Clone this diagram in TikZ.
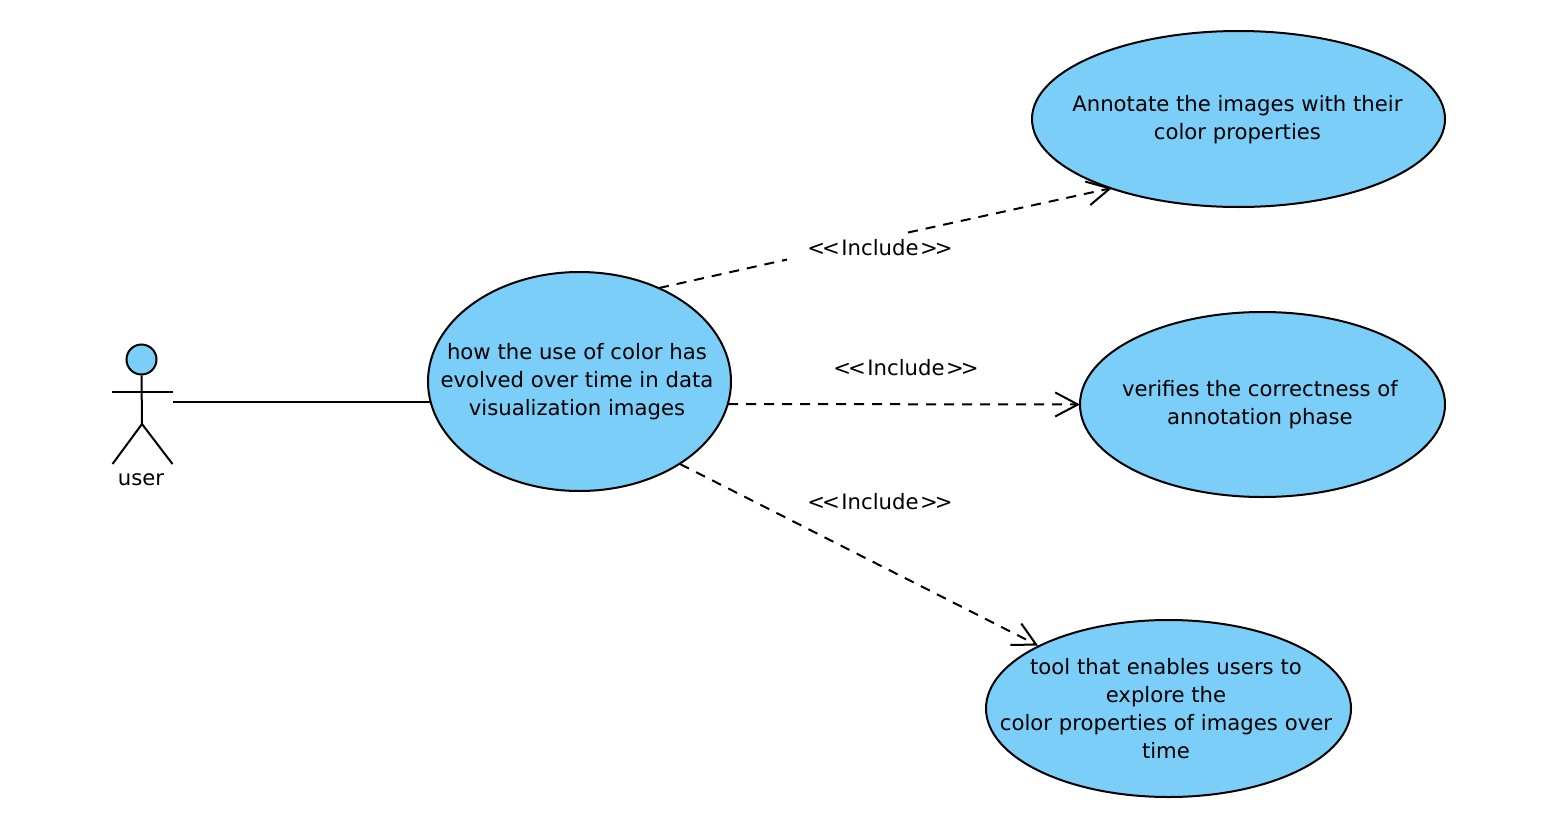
\documentclass[tikz,border=0pt]{standalone}
\usepackage{fontspec}
\setmainfont{DejaVu Sans}
\usetikzlibrary{shapes.geometric,arrows.meta,calc}
\definecolor{ucblue}{HTML}{7ACEF7}
\newcommand{\inctext}{<\kern-2.4pt<\kern1.2pt Include\kern1.2pt>\kern-2.4pt>}
\tikzset{
  uc/.style={ellipse,draw=black,fill=ucblue,line width=1.5pt,inner sep=0pt},
  txt/.style={align=center,inner sep=0pt,font=\fontsize{15.9pt}{21pt}\selectfont},
  stereo/.style={inner sep=0pt,font=\fontsize{15.9pt}{21pt}\selectfont},
  conn/.style={line width=1.5pt,black},
  dep/.style={line width=1.5pt,black,dash pattern=on 7.5pt off 6pt},
  open/.style={-{Straight Barb[length=17pt,width=18pt,line width=1.5pt]}},
}
\begin{document}
\begin{tikzpicture}[x=0.75pt,y=-0.75pt]
\useasboundingbox (0,0) rectangle (1546,828);
% use cases
\node[uc,minimum width=227.25pt,minimum height=164.25pt,
  label={[txt,xshift=-1.9pt,yshift=-0.4pt]center:{how the use of color has\\evolved over time in data\\visualization images}}] (e0) at (579.5,381.5) {};
\node[uc,minimum width=309.75pt,minimum height=132pt,
  label={[txt,xshift=-0.8pt,yshift=-0.4pt]center:{Annotate the images with their\\color properties}}] (e1) at (1238.5,119) {};
\node[uc,minimum width=273.75pt,minimum height=138.75pt,
  label={[txt,xshift=-1.9pt,yshift=-0.1pt]center:{verifies the correctness of\\annotation phase}}] (e2) at (1262.5,404.5) {};
\node[uc,minimum width=273.75pt,minimum height=132.75pt,
  label={[txt,xshift=-1.9pt]center:{tool that enables users to\\explore the\\color properties of images over\\time}}] (e3) at (1168.5,708.5) {};
% actor
\node[circle,draw=black,fill=ucblue,line width=1.5pt,minimum size=22.5pt,inner sep=0pt] (head) at (141.5,359.5) {};
\coordinate (hip) at (142,424);
\coordinate (armL) at (112,392);
\coordinate (armR) at (172.5,392);
\coordinate (footL) at (112.5,464);
\coordinate (footR) at (172.5,464);
\coordinate (assoc) at (173,402);
\draw[conn] (head.south) -- (hip);
\draw[conn] (armL) -- (armR);
\draw[conn] (footL) -- (hip) -- (footR);
\node[txt] (user) at (141,480) {user};
% connector ends on the ellipse borders
\coordinate (e0w) at ($(e0)+(-148.8,20.5)$);
\coordinate (e0a) at ($(e0)+(79.5,-93.5)$);
\coordinate (e0b) at ($(e0)+(148.5,22.5)$);
\coordinate (e0c) at ($(e0)+(100.5,82.5)$);
\coordinate (e1a) at ($(e1)+(-126.5,69)$);
\coordinate (e2a) at ($(e2)+(-182.5,0)$);
\coordinate (e3a) at ($(e3)+(-130.5,-63)$);
\coordinate (gapA) at (787,259.5);
\coordinate (gapB) at (908,232.5);
% connectors
\draw[conn] (assoc) -- (e0w);
\draw[dep] (e0a) -- (gapA);
\draw[dep,open] (gapB) -- (e1a);
\draw[dep,open] (e0b) -- (e2a);
\draw[dep,open] (e0c) -- (e3a);
% stereotypes
\node[stereo] (inc1) at (880,248) {\inctext};
\node[stereo] (inc2) at (906,368) {\inctext};
\node[stereo] (inc3) at (880,502) {\inctext};
\end{tikzpicture}
\end{document}
